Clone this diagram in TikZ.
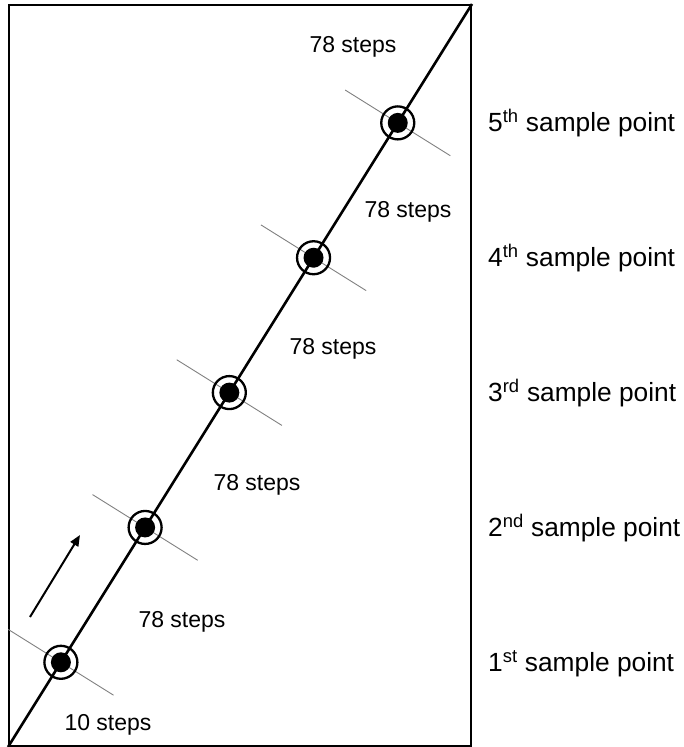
\documentclass[tikz,border=0pt]{standalone}
\usepackage{fontspec}
\setmainfont{Liberation Sans}
\usetikzlibrary{calc,arrows.meta}
\begin{document}
\begin{tikzpicture}[x=1pt,y=-1pt,
  frame/.style={draw=black,line width=2pt},
  track/.style={draw=black,line width=2.6pt},
  crossline/.style={draw=black!50,line width=0.9pt},
  ring/.style={circle,draw=black,line width=2.3pt,minimum size=33pt,inner sep=0pt},
  dot/.style={circle,fill=black,minimum size=20pt,inner sep=0pt},
  steplabel/.style={anchor=base,inner sep=0pt,font=\fontsize{23}{27}\selectfont},
  pointlabel/.style={anchor=base west,inner sep=0pt,font=\fontsize{26.3}{30}\selectfont}]
\useasboundingbox (0,0) rectangle (683,747);

% outer frame and the diagonal track between its corners
\node[frame,minimum width=462pt,minimum height=741pt,inner sep=0pt,anchor=north west] (box) at (8,4) {};
\coordinate (start) at (box.south west);
\coordinate (end) at (box.north east);
\draw[track] (start) -- (end);

% sample positions along the track
\foreach \i/\t in {1/0.114,2/0.2955,3/0.477,4/0.6585,5/0.84}{
  \coordinate (p\i) at ($(start)!\t!(end)$);
  \draw[crossline] ($(p\i)!62pt!90:(end)$) -- ($(p\i)!62pt!-90:(end)$);
  \node[ring] (r\i) at (p\i) {};
  \node[dot] (d\i) at (p\i) {};
}

% direction of travel
\coordinate (tail) at (30,617);
\coordinate (head) at (80,535);
\draw[line width=2pt,-{Triangle[length=11pt,width=9pt]}] (tail) -- (head);

% step counts between the points
\node[steplabel] (s0) at (108,730) {10 steps};
\node[steplabel] (s1) at (182,627) {78 steps};
\node[steplabel] (s2) at (257,490) {78 steps};
\node[steplabel] (s3) at (333,354) {78 steps};
\node[steplabel] (s4) at (408,217) {78 steps};
\node[steplabel] (s5) at (353,52) {78 steps};

% point names, baseline just below each point
\path let \p1=(p1) in node[pointlabel] (n1) at (488,\y1-9) {1\textsuperscript{st} sample point};
\path let \p1=(p2) in node[pointlabel] (n2) at (488,\y1-9) {2\textsuperscript{nd} sample point};
\path let \p1=(p3) in node[pointlabel] (n3) at (488,\y1-9) {3\textsuperscript{rd} sample point};
\path let \p1=(p4) in node[pointlabel] (n4) at (488,\y1-9) {4\textsuperscript{th} sample point};
\path let \p1=(p5) in node[pointlabel] (n5) at (488,\y1-9) {5\textsuperscript{th} sample point};
\end{tikzpicture}
\end{document}
